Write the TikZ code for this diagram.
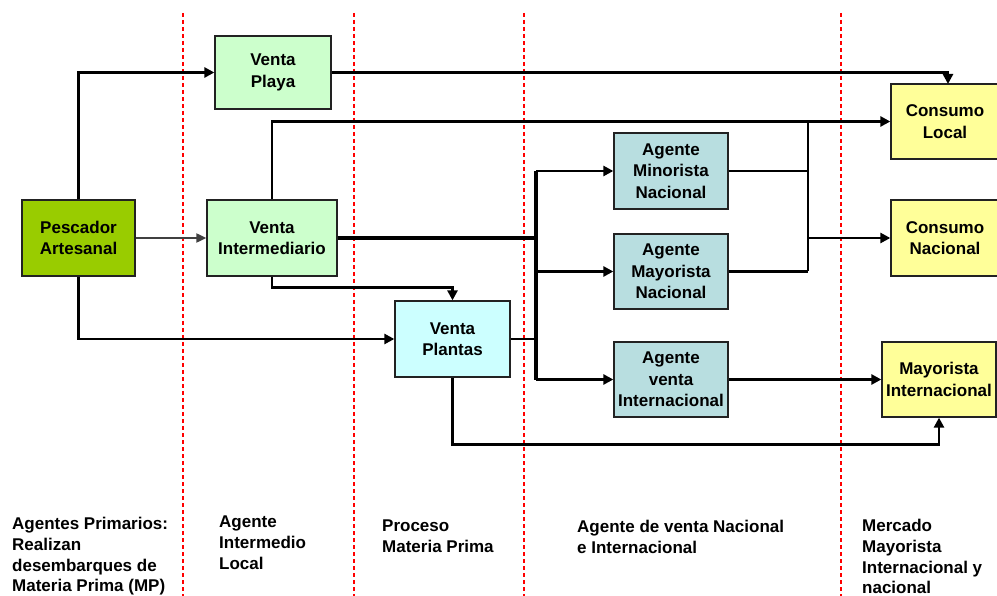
\documentclass[tikz,border=0pt]{standalone}
\usepackage{fontspec}
\setmainfont{Liberation Sans}
\usetikzlibrary{arrows.meta}
\definecolor{pescgreen}{HTML}{99CC00}
\definecolor{ventagreen}{HTML}{CCFFCC}
\definecolor{plantcyan}{HTML}{CCFFFF}
\definecolor{agteal}{HTML}{B8DEE0}
\definecolor{consyellow}{HTML}{FFFF99}
\definecolor{bordergray}{HTML}{222222}
\tikzset{
  box/.style={draw=bordergray, line width=1.3pt, inner sep=0pt, align=center,
    font=\fontsize{17}{21.5}\selectfont\bfseries},
  conn/.style={line width=2.9pt, -{Triangle[length=10pt,width=10pt]}},
  plainline/.style={line width=2.9pt},
  thickline/.style={line width=3.8pt},
  thinconn/.style={line width=2pt, draw=black!75, -{Triangle[length=10pt,width=9pt]}},
  sep/.style={red, line width=1.2pt, dash pattern=on 4pt off 3pt},
  lbl/.style={anchor=north west, inner sep=0pt, align=left,
    font=\fontsize{17}{20.8}\selectfont\bfseries}
}
\begin{document}
\begin{tikzpicture}[x=1pt,y=-1pt]
\useasboundingbox (0,0) rectangle (997,596);
% separators
\draw[sep] (183,13) -- (183,596);
\draw[sep] (354,13) -- (354,596);
\draw[sep] (524,13) -- (524,596);
\draw[sep] (841,13) -- (841,596);
% nodes
\node[box, fill=pescgreen, minimum width=113pt, minimum height=76pt] (pesc) at (78.5,238) {Pescador\\Artesanal};
\node[box, fill=ventagreen, minimum width=116pt, minimum height=73pt] (playa) at (273,72.5) {Venta\\Playa};
\node[box, fill=ventagreen, minimum width=130pt, minimum height=76pt] (inter) at (272,238) {Venta\\Intermediario};
\node[box, fill=plantcyan, minimum width=115pt, minimum height=76pt] (plantas) at (452.5,339) {Venta\\Plantas};
\node[box, fill=agteal, minimum width=114pt, minimum height=76pt] (mino) at (671,171) {Agente\\Minorista\\Nacional};
\node[box, fill=agteal, minimum width=114pt, minimum height=75pt] (mayo) at (671,271.5) {Agente\\Mayorista\\Nacional};
\node[box, fill=agteal, minimum width=114pt, minimum height=75pt] (intl) at (671,379.5) {Agente\\venta\\Internacional};
\node[box, fill=consyellow, minimum width=108pt, minimum height=75pt] (clocal) at (945,121.5) {Consumo\\Local};
\node[box, fill=consyellow, minimum width=108pt, minimum height=76pt] (cnac) at (945,238) {Consumo\\Nacional};
\node[box, fill=consyellow, minimum width=114pt, minimum height=75pt] (mint) at (939,379.5) {Mayorista\\Internacional};
% junction coordinates
\coordinate (j1) at (536,238);
\coordinate (j2) at (808,238);
\coordinate (cl) at (948,84);
% connectors
\draw[conn] (pesc.north) |- (playa.west);
\draw[thinconn] (pesc.east) -- (inter.west);
\draw[conn] (pesc.south) |- (plantas.west);
\draw[conn] (playa.east) -| (cl);
\draw[conn] (inter.north) |- (clocal.west);
\draw[conn] (inter.south) |- ++(0,11) -| (plantas.north);
\draw[thickline] (inter.east) -- (j1);
\draw[thickline] (j1 |- mino.west) -- (j1 |- intl.west);
\draw[plainline] (plantas.east) -- (plantas.east -| j1);
\draw[conn] (j1 |- mino.west) -- (mino.west);
\draw[conn] (j1 |- mayo.west) -- (mayo.west);
\draw[conn] (j1 |- intl.west) -- (intl.west);
\draw[plainline] (mino.east) -- (mino.east -| j2);
\draw[plainline] (mayo.east) -- (mayo.east -| j2);
\draw[plainline] (j2 |- clocal.west) -- (j2 |- mayo.east);
\draw[conn] (j2) -- (cnac.west);
\draw[conn] (intl.east) -- (mint.west);
\draw[conn] (plantas.south) |- ++(0,67) -| (mint.south);
% bottom labels
\node[lbl] (l1) at (12,517) {Agentes Primarios:\\Realizan\\desembarques de\\Materia Prima (MP)};
\node[lbl] (l2) at (219,516) {Agente\\Intermedio\\Local};
\node[lbl] (l3) at (382,520) {Proceso\\Materia Prima};
\node[lbl] (l4) at (577,520) {Agente de venta Nacional\\e Internacional};
\node[lbl] (l5) at (862,519) {Mercado\\Mayorista\\Internacional y\\nacional};
\end{tikzpicture}
\end{document}
